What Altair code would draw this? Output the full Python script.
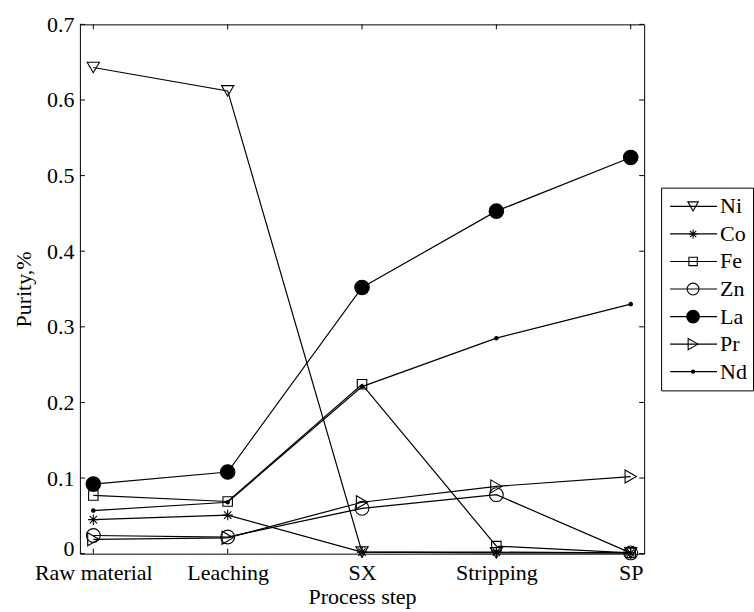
import json
import altair as alt
import pandas as pd

# Process steps along the x axis
steps = ["Raw material", "Leaching", "SX", "Stripping", "SP"]
step_pos = [1, 2, 3, 4, 5]

# Purity of each element after each step
elements = ["Ni", "Co", "Fe", "Zn", "La", "Pr", "Nd"]
ni = [0.643, 0.612, 0.002, 0.001, 0.001]
co = [0.045, 0.051, 0.002, 0.002, 0.001]
fe = [0.077, 0.069, 0.224, 0.010, 0.001]
zn = [0.024, 0.022, 0.060, 0.078, 0.001]
la = [0.092, 0.108, 0.352, 0.453, 0.524]
pr = [0.019, 0.021, 0.068, 0.089, 0.102]
nd = [0.057, 0.068, 0.221, 0.285, 0.330]

y_ticks = [0, 0.1, 0.2, 0.3, 0.4, 0.5, 0.6, 0.7]

series = dict(zip(elements, [ni, co, fe, zn, la, pr, nd]))
rows = []
for el, vals in series.items():
    for s, v in zip(step_pos, vals):
        rows.append({"element": el, "step": s, "value": v})
df = pd.DataFrame(rows)

FONT = "Times New Roman, Liberation Serif, serif"
FS = 22
W, H = 565, 530
TICK = 5

asterisk = "M0,-1L0,1M-1,0L1,0M-0.7,-0.7L0.7,0.7M-0.7,0.7L0.7,-0.7"
shape_scale = alt.Scale(
    domain=elements,
    range=["triangle-down", asterisk, "square", "circle", "circle", "triangle-right", "circle"],
)
fill_scale = alt.Scale(
    domain=elements,
    range=["transparent", "transparent", "transparent", "transparent", "black", "transparent", "black"],
)
size_scale = alt.Scale(type="ordinal", domain=elements, range=[150, 110, 90, 190, 210, 170, 12])
leg_size_scale = alt.Scale(type="ordinal", domain=elements, range=[110, 80, 70, 140, 160, 130, 10])

label_expr = f"{json.dumps(steps)}[datum.value - 1]"

x_enc = alt.X(
    "step:Q",
    scale=alt.Scale(domain=[0.9, 5.1], nice=False, zero=False),
    axis=alt.Axis(
        values=step_pos, labelExpr=label_expr, ticks=False, grid=False, domain=False,
        title="Process step", labelPadding=9, titlePadding=3,
    ),
)
y_enc = alt.Y(
    "value:Q",
    scale=alt.Scale(domain=[0, 0.7], nice=False),
    axis=alt.Axis(
        values=y_ticks, labelExpr="datum.value == 0 ? '0' : format(datum.value, '.1f')",
        labelOffset={"condition": {"test": "datum.value == 0", "value": -5}, "value": 0},
        ticks=False, grid=False, domain=False, title="Purity,%", labelPadding=6, titlePadding=11,
    ),
)

lines = alt.Chart(df).mark_line(color="black", strokeWidth=1.2).encode(
    x=x_enc, y=y_enc, detail="element:N"
)
points = alt.Chart(df).mark_point(filled=True, stroke="black", strokeWidth=1.1, opacity=1).encode(
    x="step:Q",
    y="value:Q",
    shape=alt.Shape("element:N", scale=shape_scale, legend=None),
    fill=alt.Fill("element:N", scale=fill_scale, legend=None),
    size=alt.Size("element:N", scale=size_scale, legend=None),
)

# Inward tick marks on all four sides of the frame
xt = pd.DataFrame({"step": step_pos})
yt = pd.DataFrame({"value": y_ticks})
tick_b = alt.Chart(xt).mark_rule(color="black").encode(x="step:Q", y=alt.value(H), y2=alt.value(H - TICK))
tick_t = alt.Chart(xt).mark_rule(color="black").encode(x="step:Q", y=alt.value(0), y2=alt.value(TICK))
tick_l = alt.Chart(yt).mark_rule(color="black").encode(y="value:Q", x=alt.value(0), x2=alt.value(TICK))
tick_r = alt.Chart(yt).mark_rule(color="black").encode(y="value:Q", x=alt.value(W), x2=alt.value(W - TICK))

main = alt.layer(lines, tick_b, tick_t, tick_l, tick_r, points).properties(width=W, height=H)

# Legend panel: line sample, marker and element name on each row
leg_df = pd.DataFrame({"element": elements})
LW, LH = 92, 203
leg_y = alt.Y("element:N", sort=elements, axis=None, scale=alt.Scale(type="point", padding=0.68))
leg_line = alt.Chart(leg_df).mark_rule(color="black", strokeWidth=1.2).encode(
    y=leg_y, x=alt.value(9), x2=alt.value(56)
)
leg_pts = alt.Chart(leg_df).mark_point(filled=True, stroke="black", strokeWidth=1.1, opacity=1).encode(
    y=leg_y,
    x=alt.value(32),
    shape=alt.Shape("element:N", scale=shape_scale, legend=None),
    fill=alt.Fill("element:N", scale=fill_scale, legend=None),
    size=alt.Size("element:N", scale=leg_size_scale, legend=None),
)
leg_txt = alt.Chart(leg_df).mark_text(
    align="left", baseline="middle", font=FONT, fontSize=FS, color="black"
).encode(y=leg_y, x=alt.value(59), text="element:N")
legend = alt.layer(leg_line, leg_pts, leg_txt).properties(width=LW, height=LH)

chart = (
    alt.hconcat(main, legend, spacing=17, bounds="flush", center=True)
    .resolve_scale(shape="independent", fill="independent", size="independent")
    .properties(padding={"left": 12, "top": 12, "right": 0, "bottom": 0})
    .configure_view(stroke="black", strokeWidth=1)
    .configure_axis(
        labelFont=FONT, titleFont=FONT, labelFontSize=FS, titleFontSize=FS,
        labelColor="black", titleColor="black", titleFontWeight="normal",
    )
)

chart.save("out.html", embed_options={"renderer": "svg", "actions": False})
